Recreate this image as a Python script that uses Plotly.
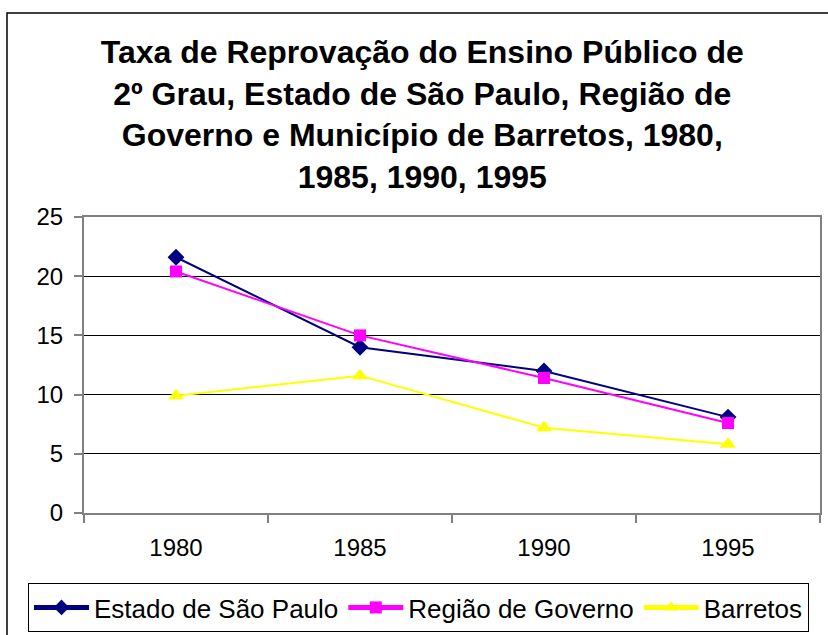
import plotly.graph_objects as go

years = ["1980", "1985", "1990", "1995"]
estado_sp = [21.6, 14.0, 12.0, 8.1]
regiao_gov = [20.4, 15.0, 11.4, 7.6]
barretos = [9.9, 11.6, 7.2, 5.8]
y_ticks = [0, 5, 10, 15, 20, 25]

title_text = ("Taxa de Reprovação do Ensino Público de<br>2º Grau, Estado de São Paulo, Região de"
              "<br>Governo e Município de Barretos, 1980,<br>1985, 1990, 1995")

W, H = 828, 635
L, R, T, B = 84, 8, 217, 122
pw, ph = W - L - R, H - T - B
FONT = "Arial, Liberation Sans, sans-serif"

fig = go.Figure()
fig.add_trace(go.Scatter(x=years, y=estado_sp, name="Estado de São Paulo", mode="lines+markers",
                         line=dict(color="#000080", width=2),
                         marker=dict(symbol="diamond", size=13, color="#000080")))
fig.add_trace(go.Scatter(x=years, y=regiao_gov, name="Região de Governo", mode="lines+markers",
                         line=dict(color="#FF00FF", width=2),
                         marker=dict(symbol="square", size=12, color="#FF00FF")))
fig.add_trace(go.Scatter(x=years, y=barretos, name="Barretos", mode="lines+markers",
                         line=dict(color="#FFFF00", width=2),
                         marker=dict(symbol="triangle-up", size=14, color="#FFFF00")))

# outer chart frame
fig.add_shape(type="rect", xref="paper", yref="paper",
              x0=(7 - L) / pw, x1=(W + 20 - L) / pw,
              y0=-(H + 20 - T - ph) / ph, y1=(H - B - 13) / ph,
              line=dict(color="black", width=1.5), layer="below")

fig.update_layout(
    width=W, height=H,
    margin=dict(l=L, r=R, t=T, b=B, autoexpand=False),
    paper_bgcolor="white", plot_bgcolor="white",
    font=dict(family=FONT, color="black", size=24),
    title=dict(text=title_text, x=0.51, xanchor="center", xref="container",
               y=1 - 63 / H, yanchor="top", yref="container",
               font=dict(size=32, family=FONT, color="black", weight="bold")),
    xaxis=dict(type="category", range=[-0.5, 3.5], showgrid=False,
               showline=True, linecolor="#808080", linewidth=2, mirror=True,
               ticks="outside", ticklen=8, tickcolor="#808080", tickwidth=2,
               ticklabelstandoff=12,
               tickson="boundaries", tickfont=dict(size=24), fixedrange=True),
    yaxis=dict(range=[0, 25], tickvals=y_ticks, showgrid=True, gridcolor="black", gridwidth=1,
               showline=True, linecolor="#808080", linewidth=2, mirror=True,
               ticks="outside", ticklen=8, tickcolor="#808080", tickwidth=2,
               ticklabelstandoff=6,
               tickfont=dict(size=24), zeroline=False, fixedrange=True),
    legend=dict(orientation="h", x=(28 - L) / pw, xanchor="left",
                y=-(583 - T - ph) / ph, yanchor="top",
                bordercolor="black", borderwidth=1, font=dict(size=26),
                itemwidth=55, itemsizing="constant"),
    showlegend=True,
)

fig.write_html("out.html", config={"displayModeBar": False},
               post_script="document.body.style.margin='0';")
